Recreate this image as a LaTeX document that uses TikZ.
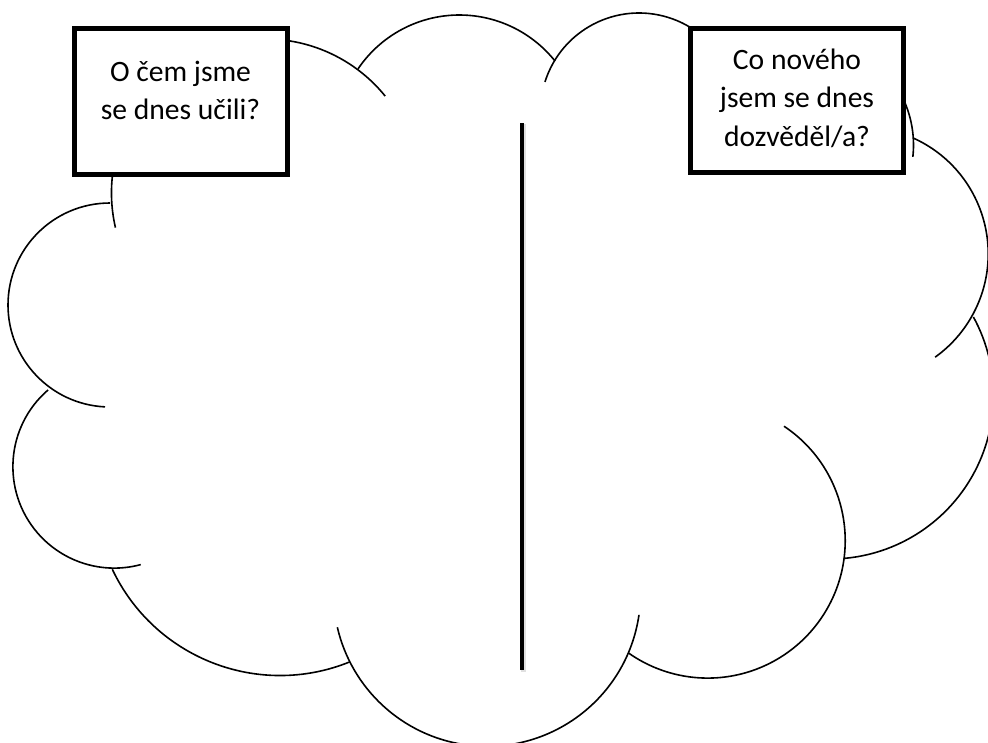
\documentclass[tikz,border=0pt]{standalone}
\usepackage{fontspec}
\setmainfont{Carlito}
\begin{document}
\begin{tikzpicture}[x=1pt,y=-1pt,
  cloudline/.style={line width=1.6pt, draw=black, line cap=butt},
  qbox/.style={draw=black, fill=white, line width=5pt, inner sep=0pt},
  qtext/.style={anchor=base, inner sep=0pt, font=\fontsize{29.6}{36}\selectfont},
  divider/.style={line width=4.5pt, draw=black},
  dividershadow/.style={line width=5pt, draw=black!12}]
\useasboundingbox (0,0) rectangle (988,742);
\newcommand\cloudarc[5]{\draw[cloudline] (#1,#2) ++(#4:#3) arc[start angle=#4, end angle=#5, radius=#3];}
\begin{scope}
\clip (0,0) rectangle (988,742);
% top-left bump (mostly behind the left box)
\cloudarc{265.5}{193}{154}{167}{321}
% top middle bumps
\cloudarc{459.4}{137.3}{122.3}{214}{321.4}
\cloudarc{639}{111.6}{98.6}{197.5}{330}
% bump hidden behind the right box
\cloudarc{805}{145}{108.5}{-30}{6.3}
% right bumps
\cloudarc{861.2}{253.9}{127}{-65.9}{54.4}
\cloudarc{830}{395.5}{163.5}{-28.7}{84.7}
% bottom bumps
\cloudarc{707.7}{540.6}{137.5}{-56.3}{125.4}
\cloudarc{487}{592.7}{153.6}{8.3}{167}
\cloudarc{280}{490}{185.5}{67.9}{154.7}
% left bumps
\cloudarc{114.3}{466.7}{101.4}{229.2}{74.9}
\cloudarc{110}{305}{102}{270}{92.8}
\end{scope}
% question boxes
\node[qbox, minimum width=213.5pt, minimum height=145.5pt] (leftbox) at (180.75,101.25) {};
\node[qbox, minimum width=213pt, minimum height=144pt] (rightbox) at (797,100.5) {};
\node[qtext] (l1) at (180.5,81.7) {O čem jsme};
\node[qtext] (l2) at (180.5,119.3) {se dnes učili?};
\node[qtext] (r1) at (797,69.5) {Co nového};
\node[qtext] (r2) at (797,107.5) {jsem se dnes};
\node[qtext] (r3) at (797,146) {dozvěděl/a?};
% divider
\coordinate (divtop) at (522,123);
\coordinate (divbot) at (522,670);
\coordinate (shtop) at (523,124);
\coordinate (shbot) at (523,671.5);
\draw[dividershadow] (shtop) -- (shbot);
\draw[divider] (divtop) -- (divbot);
\end{tikzpicture}
\end{document}
